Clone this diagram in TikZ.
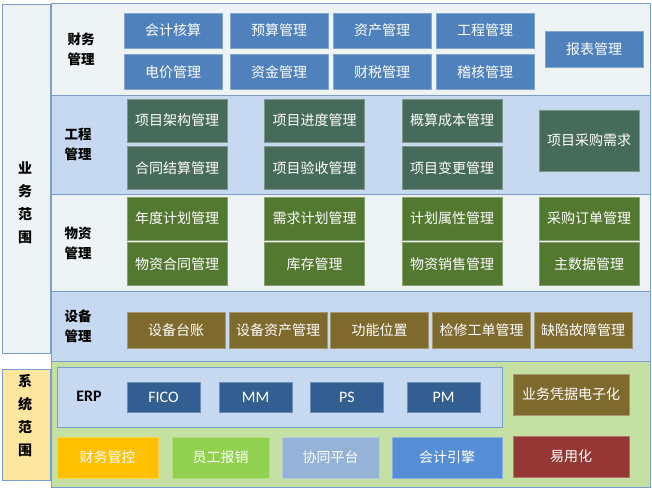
\documentclass[tikz,border=0pt]{standalone}
\usepackage{fontspec}
\setmainfont{Noto Sans CJK SC}
\newfontfamily\latinfont{Carlito}
\usepackage{tikz}
\usetikzlibrary{positioning}

\definecolor{bandline}{HTML}{7A9CD0}
\definecolor{lightband}{HTML}{EEF4F5}
\definecolor{blueband}{HTML}{C6D9F1}
\definecolor{greenband}{HTML}{C4E0A2}
\definecolor{yellowband}{HTML}{FFE69E}
\definecolor{finblue}{HTML}{4F81BD}
\definecolor{engteal}{HTML}{476B5A}
\definecolor{matgreen}{HTML}{537830}
\definecolor{equipbrown}{HTML}{7F6A2D}
\definecolor{erpblue}{HTML}{335E91}
\definecolor{ctrlyellow}{HTML}{FFC000}
\definecolor{expgreen}{HTML}{92D050}
\definecolor{collabblue}{HTML}{95B3D7}
\definecolor{accblue}{HTML}{558ED5}
\definecolor{easyred}{HTML}{953735}

\begin{document}
\begin{tikzpicture}[x=1pt, y=-1pt, node distance=6pt,
  every node/.style={font=\fontsize{14}{16}\selectfont},
  band/.style={draw=bandline, line width=0.7pt},
  item/.style={rectangle, fill=#1, draw=#1!70!white, text=white, inner sep=0pt, align=center},
  fin/.style={item=finblue, minimum width=98pt, minimum height=35pt},
  eng/.style={item=engteal, minimum width=100pt, minimum height=43pt},
  mat/.style={item=matgreen, minimum width=100pt, minimum height=43pt},
  equip/.style={item=equipbrown, minimum width=98pt, minimum height=36pt},
  erp/.style={item=erpblue, minimum width=73pt, minimum height=30pt, font=\latinfont\fontsize{16}{18}\selectfont},
  sys/.style={item=#1, minimum height=41pt},
  lbl/.style={font=\bfseries\fontsize{13.5}{20}\selectfont, align=center, text=black},
  scopelbl/.style={lbl, font=\bfseries\fontsize{14}{23}\selectfont}]
\useasboundingbox (0,0) rectangle (652,489);

% bands
\draw[band, fill=lightband] (2,4) rectangle (50,353);
\draw[band, fill=yellowband] (2,369) rectangle (50,480);
\draw[band, fill=lightband] (51,3) rectangle (650,95);
\draw[band, fill=blueband] (51,95) rectangle (650,194);
\draw[band, fill=lightband] (51,194) rectangle (650,291);
\draw[band, fill=blueband] (51,291) rectangle (650,361);
\draw[band, fill=greenband] (51,361) rectangle (650,487);
\draw[band, fill=blueband] (57,367) rectangle (502,427);

% scope labels
\node[scopelbl] (bizscope) at (25,203) {业\\务\\范\\围};
\node[scopelbl] (sysscope) at (25,416) {系\\统\\范\\围};
\node[lbl] (finlbl) at (81,49) {财务\\管理};
\node[lbl] (englbl) at (78,144) {工程\\管理};
\node[lbl] (matlbl) at (78,243) {物资\\管理};
\node[lbl] (equiplbl) at (78,326) {设备\\管理};
\node[lbl, font=\latinfont\bfseries\fontsize{16}{18}\selectfont] (erplbl) at (89,396) {ERP};

% finance
\node[fin] (acct) at (173,30.5) {会计核算};
\node[fin] (budget) at (279,30.5) {预算管理};
\node[fin] (asset) at (382,30.5) {资产管理};
\node[fin] (proj) at (485,30.5) {工程管理};
\node[fin, below=6pt of acct] (price) {电价管理};
\node[fin, below=6pt of budget] (fund) {资金管理};
\node[fin, below=6pt of asset] (tax) {财税管理};
\node[fin, below=6pt of proj] (audit) {稽核管理};
\node[fin, minimum height=36pt] (report) at (594,49) {报表管理};

% engineering
\node[eng] (struct) at (177,120.5) {项目架构管理};
\node[eng] (progress) at (314.5,120.5) {项目进度管理};
\node[eng] (cost) at (452,120.5) {概算成本管理};
\node[eng, below=4pt of struct] (settle) {合同结算管理};
\node[eng, below=4pt of progress] (accept) {项目验收管理};
\node[eng, below=4pt of cost] (change) {项目变更管理};
\node[eng, minimum height=61pt] (purreq) at (589,140.5) {项目采购需求};

% materials
\node[mat] (annual) at (177,218.5) {年度计划管理};
\node[mat] (demand) at (314.5,218.5) {需求计划管理};
\node[mat] (attr) at (452,218.5) {计划属性管理};
\node[mat] (order) at (589,218.5) {采购订单管理};
\node[mat, below=2pt of annual] (contract) {物资合同管理};
\node[mat, below=2pt of demand] (stock) {库存管理};
\node[mat, below=2pt of attr] (sales) {物资销售管理};
\node[mat, below=2pt of order] (master) {主数据管理};

% equipment
\node[equip] (ledger) at (176,330) {设备台账};
\node[equip] (eqasset) at (278,330) {设备资产管理};
\node[equip] (floc) at (379.5,330) {功能位置};
\node[equip] (repair) at (481.5,330) {检修工单管理};
\node[equip] (defect) at (583,330) {缺陷故障管理};

% systems
\node[erp] (fico) at (163.5,397) {FICO};
\node[erp] (mm) at (255.5,397) {MM};
\node[erp] (ps) at (347,397) {PS};
\node[erp] (pm) at (443.5,397) {PM};
\node[item=equipbrown, minimum width=116pt, minimum height=41pt] (edoc) at (571,394.5) {业务凭据电子化};
\node[sys=ctrlyellow, minimum width=101pt] (ctrl) at (107.5,457.5) {财务管控};
\node[sys=expgreen, minimum width=97pt] (expense) at (220.5,457.5) {员工报销};
\node[sys=collabblue, minimum width=97pt] (collab) at (330.5,457.5) {协同平台};
\node[sys=accblue, minimum width=110pt] (engine) at (447,457.5) {会计引擎};
\node[sys=easyred, minimum width=116pt] (easy) at (571,456.5) {易用化};
\end{tikzpicture}
\end{document}
